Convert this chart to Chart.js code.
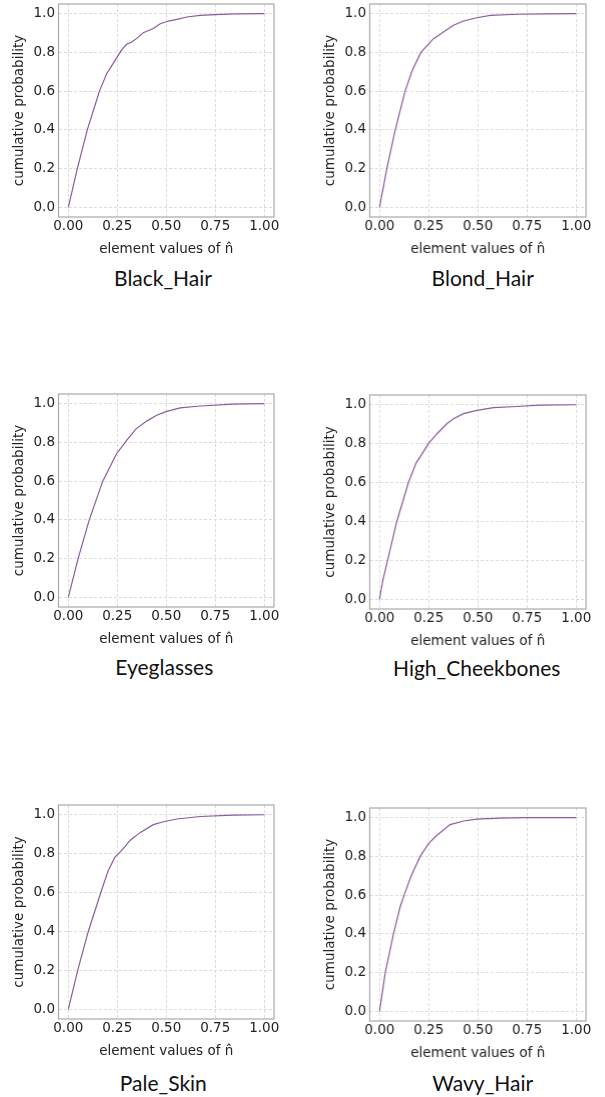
<!DOCTYPE html>
<html><head><meta charset="utf-8">
<script src="https://cdn.jsdelivr.net/npm/chart.js@4/dist/chart.umd.min.js"></script>
<style>
html,body{margin:0;padding:0;background:#fff;width:605px;height:1097px;overflow:hidden;position:relative}
.c{position:absolute}
.t{position:absolute;font-family:Lato,sans-serif;font-size:21px;line-height:24px;color:#111;white-space:nowrap;transform:translateX(-50%)}
</style></head><body>
<script>
const xTicks=[0,0.25,0.5,0.75,1.0];
const yTicks=[0,0.2,0.4,0.6,0.8,1.0];
const xTitle='element values of n\u0302';
const yTitle='cumulative probability';
const attributes=['Black_Hair','Blond_Hair','Eyeglasses','High_Cheekbones','Pale_Skin','Wavy_Hair'];

const blackHairX=[0,0.046,0.097,0.128,0.159,0.196,0.239,0.273,0.298,0.324,0.358,0.383,0.434,0.469,0.511,0.56,0.605,0.673,0.75,0.85,1.0];
const blackHairY=[0,0.2,0.4,0.5,0.6,0.69,0.759,0.814,0.842,0.854,0.879,0.902,0.923,0.948,0.962,0.972,0.983,0.991,0.995,0.999,1.0];
const blondHairX=[0,0.037,0.08,0.13,0.164,0.21,0.275,0.325,0.376,0.427,0.495,0.563,0.70,0.85,1.0];
const blondHairY=[0,0.2,0.4,0.6,0.7,0.8,0.871,0.905,0.94,0.962,0.979,0.991,0.997,0.999,1.0];
const eyeglassesX=[0,0.05,0.107,0.176,0.213,0.247,0.298,0.346,0.40,0.451,0.503,0.571,0.673,0.843,1.0];
const eyeglassesY=[0,0.2,0.4,0.6,0.674,0.743,0.811,0.87,0.91,0.94,0.96,0.978,0.988,0.998,1.0];
const highCheekbonesX=[0,0.017,0.041,0.088,0.147,0.186,0.249,0.292,0.342,0.376,0.427,0.495,0.58,0.698,0.817,1.0];
const highCheekbonesY=[0,0.098,0.2,0.4,0.6,0.7,0.8,0.851,0.902,0.928,0.954,0.971,0.985,0.991,0.998,1.0];
const paleSkinX=[0,0.048,0.102,0.166,0.204,0.239,0.273,0.315,0.366,0.434,0.486,0.554,0.673,0.843,1.0];
const paleSkinY=[0,0.2,0.4,0.6,0.714,0.783,0.817,0.868,0.908,0.949,0.964,0.978,0.991,0.998,1.0];
const wavyHairX=[0,0.029,0.071,0.105,0.125,0.161,0.207,0.249,0.292,0.359,0.427,0.495,0.614,0.749,1.0];
const wavyHairY=[0,0.2,0.4,0.54,0.6,0.7,0.8,0.866,0.909,0.964,0.983,0.993,0.998,1.0,1.0];

const seriesX=[blackHairX,blondHairX,eyeglassesX,highCheekbonesX,paleSkinX,wavyHairX];
const seriesY=[blackHairY,blondHairY,eyeglassesY,highCheekbonesY,paleSkinY,wavyHairY];

// layout: plot frame (L,R,T,B) and panel title position
const frames=[
 {L:58.5,R:274,T:3.6,B:217.3,tx:163,tb:285.5},
 {L:369.5,R:585.8,T:3.6,B:217.3,tx:482.7,tb:286},
 {L:58.5,R:274,T:393.6,B:607.4,tx:164.3,tb:675},
 {L:369.5,R:585.8,T:394.6,B:608.7,tx:476.7,tb:676},
 {L:58.5,R:274,T:804.5,B:1019,tx:163.3,tb:1090.5},
 {L:369.5,R:585.8,T:807.6,B:1021.4,tx:482.7,tb:1090.5}
];

const frameBox={id:'frameBox',afterDraw(ch){const a=ch.chartArea,c=ch.ctx;c.save();c.strokeStyle='#a8a8a8';c.lineWidth=1.2;c.strokeRect(a.left,a.top,a.right-a.left,a.bottom-a.top);c.restore();}};

const PADT=4,PADR=12,YW=58.5,XH=45,FS=13.5;
attributes.forEach((name,i)=>{
  const f=frames[i];
  const left=f.L-YW, top=f.T-PADT;
  const w=f.R-left+PADR, h=f.B-top+XH;
  const cv=document.createElement('canvas');
  cv.className='c';
  cv.style.left=left+'px';cv.style.top=top+'px';
  cv.style.width=w+'px';cv.style.height=h+'px';
  cv.width=w;cv.height=h;
  document.body.appendChild(cv);
  const t=document.createElement('div');
  t.className='t';t.textContent=name;
  t.style.left=f.tx+'px';t.style.top=(f.tb-20)+'px';
  document.body.appendChild(t);
  const pts=seriesX[i].map((x,k)=>({x:x,y:seriesY[i][k]}));
  new Chart(cv,{
    type:'line',
    data:{datasets:[{data:pts,borderColor:'#8b5a9c',borderWidth:1.2,pointRadius:0,tension:0,fill:false}]},
    options:{
      responsive:false,animation:false,
      layout:{padding:{top:PADT,right:PADR,left:0,bottom:0}},
      plugins:{legend:{display:false},tooltip:{enabled:false},title:{display:false}},
      scales:{
        x:{type:'linear',min:-0.05,max:1.05,
          afterBuildTicks(s){s.ticks=xTicks.map(v=>({value:v}));},
          afterFit(s){s.height=XH;s.paddingLeft=0;s.paddingRight=0;},
          ticks:{padding:1,color:'#222',font:{family:'DejaVu Sans',size:FS},maxRotation:0,autoSkip:false,callback:v=>Number(v).toFixed(2)},
          grid:{color:'#dcdcdc',drawTicks:false,lineWidth:1},
          border:{display:false,dash:[3,2]},
          title:{display:true,text:xTitle,color:'#222',font:{family:'DejaVu Sans',size:FS},padding:{top:0,bottom:4.5}}
        },
        y:{type:'linear',min:-0.05,max:1.05,
          afterBuildTicks(s){s.ticks=yTicks.map(v=>({value:v}));},
          afterFit(s){s.width=YW;s.paddingTop=0;s.paddingBottom=0;},
          ticks:{padding:3.5,color:'#222',font:{family:'DejaVu Sans',size:FS},autoSkip:false,callback:v=>Number(v).toFixed(1)},
          grid:{color:'#dcdcdc',drawTicks:false,lineWidth:1},
          border:{display:false,dash:[3,2]},
          title:{display:true,text:yTitle,color:'#222',font:{family:'DejaVu Sans',size:FS},padding:{top:10.9,bottom:0}}
        }
      }
    },
    plugins:[frameBox]
  });
});
</script>
</body></html>
